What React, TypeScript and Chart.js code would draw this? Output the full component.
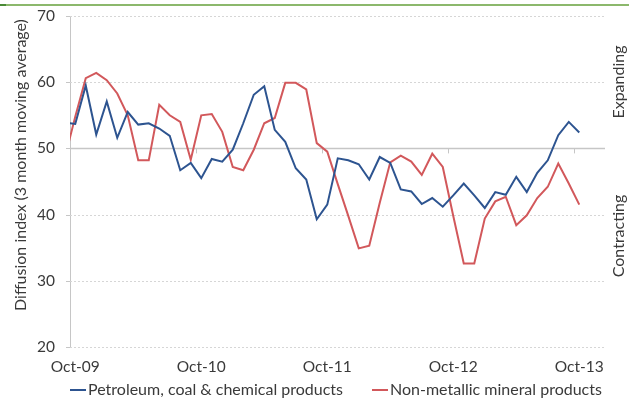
import React, { useEffect, useRef } from 'react';
import { Chart, registerables } from 'chart.js';

Chart.register(...registerables);

// Month categories (Sep-09 lies just left of the axis start and is clipped)
const months = [
  'Sep-09', 'Oct-09', 'Nov-09', 'Dec-09',
  'Jan-10', 'Feb-10', 'Mar-10', 'Apr-10', 'May-10', 'Jun-10', 'Jul-10', 'Aug-10', 'Sep-10', 'Oct-10', 'Nov-10', 'Dec-10',
  'Jan-11', 'Feb-11', 'Mar-11', 'Apr-11', 'May-11', 'Jun-11', 'Jul-11', 'Aug-11', 'Sep-11', 'Oct-11', 'Nov-11', 'Dec-11',
  'Jan-12', 'Feb-12', 'Mar-12', 'Apr-12', 'May-12', 'Jun-12', 'Jul-12', 'Aug-12', 'Sep-12', 'Oct-12', 'Nov-12', 'Dec-12',
  'Jan-13', 'Feb-13', 'Mar-13', 'Apr-13', 'May-13', 'Jun-13', 'Jul-13', 'Aug-13', 'Sep-13', 'Oct-13',
];

const petroleum = [
  53.9, 53.7, 59.5, 52.1, 57.1, 51.6, 55.5, 53.6, 53.8, 53.0,
  51.9, 46.7, 47.8, 45.5, 48.4, 48.0, 49.8, 53.8, 58.1, 59.4,
  52.8, 51.0, 47.0, 45.3, 39.3, 41.5, 48.5, 48.2, 47.6, 45.3,
  48.7, 47.8, 43.8, 43.5, 41.6, 42.5, 41.2, 42.9, 44.7, 42.9,
  41.0, 43.4, 43.0, 45.7, 43.4, 46.3, 48.2, 52.0, 54.0, 52.4,
];

const nonMetallic = [
  48.5, 54.8, 60.6, 61.4, 60.3, 58.3, 55.0, 48.2, 48.2, 56.6,
  55.0, 54.0, 48.3, 55.0, 55.2, 52.5, 47.2, 46.7, 49.8, 53.8,
  54.6, 59.9, 59.9, 58.9, 50.8, 49.5, 44.6, 39.8, 34.9, 35.3,
  41.8, 47.9, 48.9, 48.0, 46.0, 49.2, 47.2, 39.8, 32.6, 32.6,
  39.4, 42.0, 42.7, 38.4, 39.9, 42.5, 44.2, 47.7, 44.7, 41.5,
];

const seriesNames = ['Petroleum, coal & chemical products', 'Non-metallic mineral products'];
const seriesColors = ['#2d5490', '#d2585b'];
const xTickLabels = ['Oct-09', 'Oct-10', 'Oct-11', 'Oct-12', 'Oct-13'];
const yTicks = [20, 30, 40, 50, 60, 70];
const yTitle = 'Diffusion index (3 month moving average)';
const sideLabels = ['Expanding', 'Contracting'];

const FONT = 'Lato, "Open Sans", "DejaVu Sans", sans-serif';
const TEXT = '#3a3a3a';

const monthPos = (label: string) => months.indexOf(label) - 1;

const decor = {
  id: 'decor',
  beforeDatasetsDraw(chart: any) {
    const { ctx, chartArea: a, scales } = chart;
    const x = scales.x;
    const y = scales.y;
    ctx.save();
    yTicks.forEach((v) => {
      const py = Math.round(y.getPixelForValue(v)) + 0.5;
      ctx.beginPath();
      if (v === 50) {
        ctx.setLineDash([]);
        ctx.strokeStyle = '#c6c6c6';
        ctx.lineWidth = 1.5;
      } else {
        ctx.setLineDash([2, 2]);
        ctx.strokeStyle = '#d6d6d6';
        ctx.lineWidth = 1;
      }
      ctx.moveTo(a.left, py);
      ctx.lineTo(a.right, py);
      ctx.stroke();
      ctx.setLineDash([]);
      ctx.strokeStyle = '#c6c6c6';
      ctx.lineWidth = 1;
      ctx.beginPath();
      ctx.moveTo(a.left - 4, py);
      ctx.lineTo(a.left, py);
      ctx.stroke();
    });
    // tick marks on the 50 line, at the start of each labelled month
    const p50 = y.getPixelForValue(50);
    ctx.strokeStyle = '#c6c6c6';
    ctx.lineWidth = 1;
    xTickLabels.forEach((l) => {
      const px = Math.round(x.getPixelForValue(monthPos(l) - 0.5)) + 0.5;
      ctx.beginPath();
      ctx.moveTo(px, p50);
      ctx.lineTo(px, p50 + 5);
      ctx.stroke();
    });
    ctx.restore();
  },
  afterDraw(chart: any) {
    const { ctx } = chart;
    ctx.save();
    ctx.fillStyle = TEXT;
    ctx.textBaseline = 'middle';
    ctx.textAlign = 'center';
    ctx.font = `16px ${FONT}`;
    // y title
    ctx.save();
    ctx.translate(21, 165);
    ctx.rotate(-Math.PI / 2);
    ctx.fillText(yTitle, 0, 0);
    ctx.restore();
    // side labels
    [82, 236].forEach((cy, i) => {
      ctx.save();
      ctx.translate(619, cy);
      ctx.rotate(-Math.PI / 2);
      ctx.fillText(sideLabels[i], 0, 0);
      ctx.restore();
    });
    // legend
    const legendY = 390;
    const starts = [70, 372];
    ctx.textAlign = 'left';
    starts.forEach((sx, i) => {
      ctx.strokeStyle = seriesColors[i];
      ctx.lineWidth = 2;
      ctx.beginPath();
      ctx.moveTo(sx, legendY);
      ctx.lineTo(sx + 16, legendY);
      ctx.stroke();
      ctx.fillText(seriesNames[i], sx + 18, legendY);
    });
    ctx.restore();
  },
};

export default function App() {
  const ref = useRef<HTMLCanvasElement | null>(null);

  useEffect(() => {
    if (!ref.current) return;
    const mk = (vals: number[]) => vals.map((v, k) => ({ x: k - 1, y: v }));
    const chart = new Chart(ref.current, {
      type: 'line',
      data: {
        datasets: [
          {
            label: seriesNames[0],
            data: mk(petroleum),
            borderColor: seriesColors[0],
            backgroundColor: seriesColors[0],
            borderWidth: 2,
            pointRadius: 0,
            tension: 0,
            clip: 0,
          },
          {
            label: seriesNames[1],
            data: mk(nonMetallic),
            borderColor: seriesColors[1],
            backgroundColor: seriesColors[1],
            borderWidth: 2,
            pointRadius: 0,
            tension: 0,
            clip: 0,
          },
        ],
      },
      options: {
        animation: false,
        responsive: false,
        devicePixelRatio: 1,
        layout: { padding: { top: 16, right: 24, left: 0, bottom: 0 } },
        plugins: { legend: { display: false }, tooltip: { enabled: false } },
        scales: {
          x: {
            type: 'linear',
            min: -0.5,
            max: 50.45,
            grid: { display: false, drawTicks: false },
            border: { display: false },
            afterBuildTicks: (s: any) => {
              s.ticks = xTickLabels.map((l) => ({ value: monthPos(l) }));
            },
            afterFit: (s: any) => {
              s.height = 54;
              s.paddingLeft = 0;
              s.paddingRight = 0;
            },
            ticks: {
              autoSkip: false,
              maxRotation: 0,
              padding: 11,
              color: TEXT,
              font: { family: FONT, size: 15.5 },
              callback: (v: any) => months[Number(v) + 1],
            },
          },
          y: {
            min: 20,
            max: 70,
            grid: { display: false, drawTicks: false },
            border: { display: true, color: '#c6c6c6', width: 1 },
            afterFit: (s: any) => {
              s.width = 70;
              s.paddingTop = 0;
              s.paddingBottom = 0;
            },
            ticks: {
              stepSize: 10,
              padding: 15,
              color: TEXT,
              font: { family: FONT, size: 15.5 },
            },
          },
        },
      },
      plugins: [decor],
    });
    return () => chart.destroy();
  }, []);

  return (
    <div style={{ position: 'absolute', left: 0, top: 0, width: 629, height: 401, background: '#fff' }}>
      <div style={{ position: 'absolute', left: 0, top: 4, width: 629, height: 2, background: '#8cb86c' }} />
      <div style={{ position: 'absolute', left: 0, top: 4, width: 6, height: 2, background: '#4a8a36' }} />
      <canvas ref={ref} width={629} height={401} style={{ display: 'block', width: 629, height: 401 }} />
    </div>
  );
}
